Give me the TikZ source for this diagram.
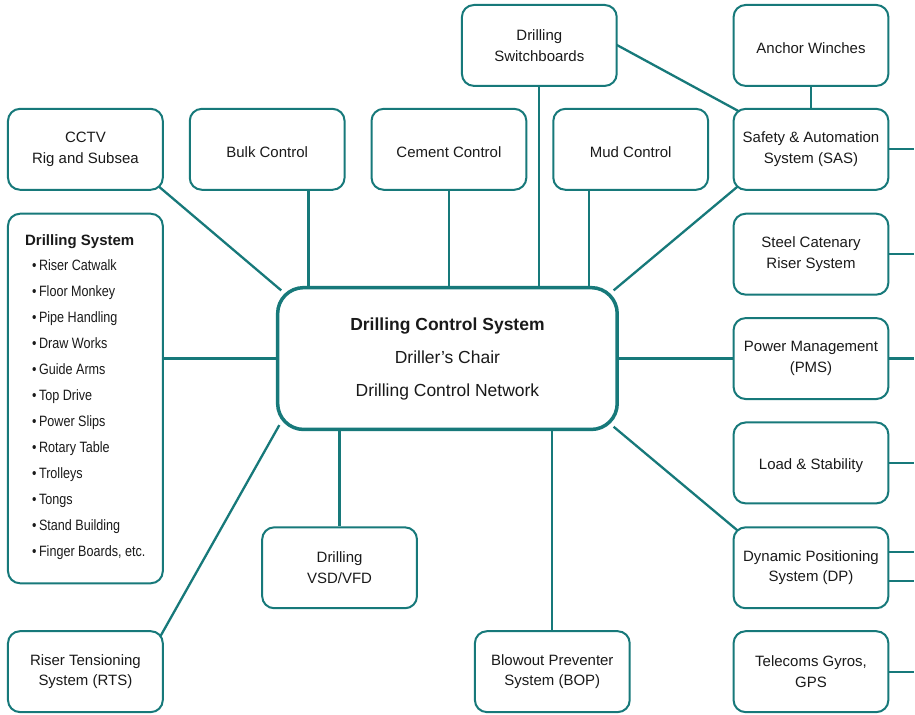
\documentclass[tikz,border=0pt]{standalone}
\usepackage{fontspec}
\setmainfont{Liberation Sans}
\newfontfamily\narrowfont[FakeStretch=0.84]{Liberation Sans}
\usetikzlibrary{backgrounds}
\definecolor{teal1}{HTML}{17797A}
\definecolor{txt}{HTML}{1A1A1A}
\begin{document}
\begin{tikzpicture}[x=1pt,y=-1pt,
  box/.style={draw=teal1,line width=2pt,rounded corners=12pt,fill=white,
    minimum width=155pt,minimum height=81pt,inner sep=0pt,align=center,
    text=txt,font=\fontsize{15}{20.5}\selectfont,
    execute at begin node={\rule{0pt}{16pt}}},
  hub/.style={draw=teal1,line width=3.5pt,rounded corners=26pt,fill=white,
    minimum width=340pt,minimum height=142pt,inner sep=0pt,align=center,
    text=txt,font=\fontsize{17.5}{33}\selectfont,
    execute at begin node={\rule{0pt}{19pt}}},
  link/.style={draw=teal1,line width=2.3pt},
  diag/.style={link,shorten <=-7pt,shorten >=-7pt},
  item/.style={anchor=base west,inner sep=0pt,text=txt,font=\narrowfont\fontsize{15}{16}\selectfont}]
\begin{scope}[on background layer]
\useasboundingbox[fill=white] (0,0) rectangle (915,715);
\end{scope}

% hub
\node[hub] (dcs) at (448,359) {\textbf{Drilling Control System}\\Driller’s Chair\\Drilling Control Network};

% top row
\node[box] (sw) at (540,45.5) {Drilling\\Switchboards};
\node[box] (aw) at (812,45.5) {Anchor Winches};
\node[box] (cctv) at (85.5,149.5) {CCTV\\Rig and Subsea};
\node[box] (bulk) at (267.5,149.5) {Bulk Control};
\node[box] (cem) at (449.5,149.5) {Cement Control};
\node[box] (mud) at (631.5,149.5) {Mud Control};
% right column
\node[box] (sas) at (812,149.5) {Safety \& Automation\\System (SAS)};
\node[box] (scr) at (812,254.5) {Steel Catenary\\Riser System};
\node[box] (pms) at (812,359) {Power Management\\(PMS)};
\node[box] (ls) at (812,463.5) {Load \& Stability};
\node[box] (dp) at (812,568.5) {Dynamic Positioning\\System (DP)};
\node[box] (tel) at (812,672.5) {Telecoms Gyros,\\GPS};
% bottom
\node[box] (vsd) at (340,568.5) {Drilling\\VSD/VFD};
\node[box] (rts) at (85.5,672.5) {Riser Tensioning\\System (RTS)};
\node[box] (bop) at (553,672.5) {Blowout Preventer\\System (BOP)};
% drilling system list
\node[box,minimum height=370pt] (ds) at (85.5,399) {};
\node[anchor=base west,inner sep=0pt,text=txt,font=\bfseries\fontsize{15}{18}\selectfont] (dst) at (25,245.5) {Drilling System};
\foreach \t [count=\i from 0] in {Riser Catwalk,Floor Monkey,Pipe Handling,Draw Works,Guide Arms,Top Drive,Power Slips,Rotary Table,Trolleys,Tongs,Stand Building,{Finger Boards, etc.}}
  \node[item] (it\i) at (32,271+26*\i) {•\hspace{2.5pt}\t};

% free ends at the right margin
\coordinate (e1) at (sas.east -| 915,0);
\coordinate (e2) at (scr.east -| 915,0);
\coordinate (e3) at (pms.east -| 915,0);
\coordinate (e4) at (ls.east -| 915,0);
\coordinate (e5) at (915,553);
\coordinate (e6) at (915,582);
\coordinate (e7) at (tel.east -| 915,0);

\begin{scope}[on background layer]
\draw[diag] (cctv.south east) -- (dcs.north west);
\draw[link] (bulk.south -| 309,0) -- (dcs.north -| 309,0);
\draw[link] (cem.south) -- (dcs.north -| cem.south);
\draw[link] (sw.south) -- (dcs.north -| sw.south);
\draw[link] (mud.south -| 590,0) -- (dcs.north -| 590,0);
\draw[diag] (sas.south west) -- (dcs.north east);
\draw[diag] (sw.east) -- (sas.north west);
\draw[link] (aw.south) -- (sas.north);
\draw[link] (ds.east |- dcs.west) -- (dcs.west);
\draw[link] (dcs.east) -- (pms.west);
\draw[diag] (rts.north east) -- (dcs.south west);
\draw[diag] (dcs.south east) -- (dp.north west);
\draw[link] (dcs.south -| vsd.north) -- (vsd.north);
\draw[link] (dcs.south -| bop.north) -- (bop.north);
\draw[link] (sas.east) -- (e1);
\draw[link] (scr.east) -- (e2);
\draw[link] (pms.east) -- (e3);
\draw[link] (ls.east) -- (e4);
\draw[link] (dp.east |- e5) -- (e5);
\draw[link] (dp.east |- e6) -- (e6);
\draw[link] (tel.east) -- (e7);
\end{scope}
\end{tikzpicture}
\end{document}
